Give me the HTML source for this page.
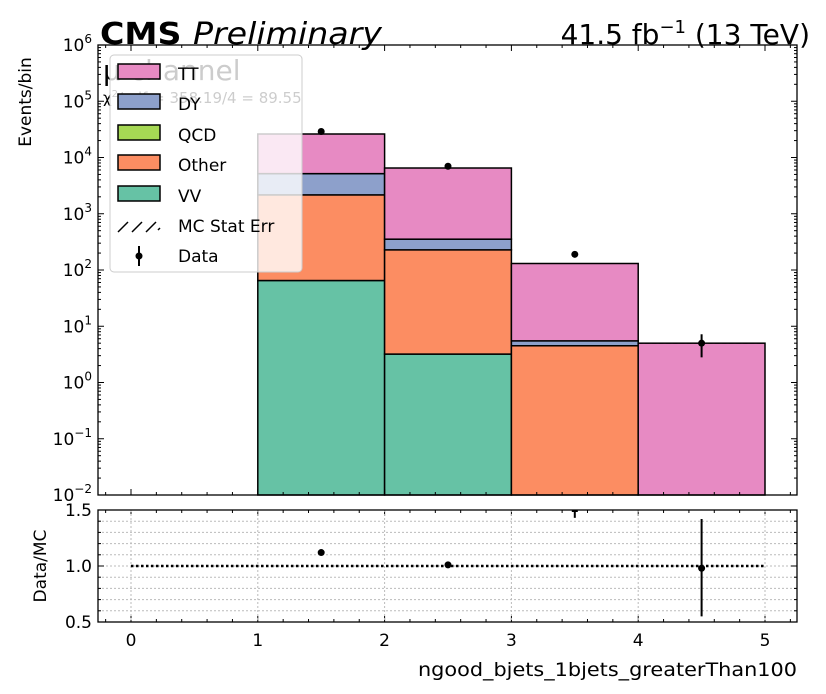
<!DOCTYPE html>
<html><head><meta charset="utf-8"><style>
body{margin:0;background:#fff;}
svg{display:block;font-family:"DejaVu Sans","Liberation Sans",sans-serif;}
</style></head><body>
<svg id="c" width="826" height="694" viewBox="0 0 826 694"></svg>
<script>
const binEdges=[0,1,2,3,4,5];
const vvVals=[0,65,3.2,0,0];
const otherVals=[0,2100,225,4.5,0];
const qcdVals=[0,0,0,0,0];
const dyVals=[0,3000,125,1.0,0];
const ttVals=[0,21000,6150,125,5.0];
const dataVals=[0,29000,7000,190,5.0];
const dataErrLo=[0,170,84,14,2.2];
const dataErrHi=[0,170,84,14,2.2];
const ratioVals=[null,1.12,1.01,1.6,0.98];
const ratioErrLo=[0,0.01,0.01,0.17,0.43];
const ratioErrHi=[0,0.01,0.01,0.17,0.44];
const yTicks=[-2,-1,0,1,2,3,4,5,6];
const xTicks=[0,1,2,3,4,5];
const rTicks=[0.5,1.0,1.5];

const S=document.getElementById('c');const NS='http://www.w3.org/2000/svg';
function el(t,a,p){const e=document.createElementNS(NS,t);for(const k in a)e.setAttribute(k,a[k]);(p||S).appendChild(e);return e;}
const L=98,R=797,T=45,B=495,RT=510,RB=622;
const X=v=>131+(v)*126.8;
const Y=v=>T+(6-Math.log10(Math.max(v,1e-2)))*56.25;
const RY=v=>RB-(v-0.5)*(RB-RT);
const comps=[[vvVals,'#66c2a5','vv'],[otherVals,'#fc8d62','other'],[qcdVals,'#a6d854','qcd'],[dyVals,'#8da0cb','dy'],[ttVals,'#e78ac3','tt']];
const cum=binEdges.slice(0,-1).map(()=>0);
const stackG=el('g',{});

comps.forEach(([vals,col,nm])=>{
  vals.forEach((v,i)=>{
    if(v<=0)return;
    const lo=cum[i],hi=cum[i]+v;cum[i]=hi;
    const y1=Y(hi),y0=Y(lo>0?lo:1e-2);
    const r=el('rect',{x:X(binEdges[i]),y:y1,width:X(binEdges[i+1])-X(binEdges[i]),height:y0-y1,fill:col,stroke:'#000','stroke-width':1.5},stackG);
    
    
  });
});
el('line',{x1:X(4),x2:X(5),y1:Y(cum[4]),y2:Y(cum[4]),stroke:'#000','stroke-dasharray':'4,3','stroke-width':1});
dataVals.forEach((v,i)=>{if(v<=0)return;const cx=X((binEdges[i]+binEdges[i+1])/2);
  el('line',{x1:cx,x2:cx,y1:Y(v+dataErrHi[i]),y2:Y(v-dataErrLo[i]),stroke:'#000','stroke-width':2});
  const c=el('circle',{cx:cx,cy:Y(v),r:3.5,fill:'#000'});
  });
const ax=el('g',{});

el('rect',{x:L,y:T,width:R-L,height:B-T,fill:'none',stroke:'#000','stroke-width':1.3},ax);
yTicks.forEach(e=>{const y=T+(6-e)*56.25;
  el('line',{x1:L,x2:L+6,y1:y,y2:y,stroke:'#000'},ax);el('line',{x1:R,x2:R-6,y1:y,y2:y,stroke:'#000'},ax);
  const t=el('text',{x:L-6,y:y+6,'text-anchor':'end','font-size':17},ax);t.innerHTML='10<tspan dy="-8" font-size="12">'+(e<0?'−'+(-e):e)+'</tspan>';
  
  if(e<6)for(let m=2;m<10;m++){const ym=y-Math.log10(m)*56.25;el('line',{x1:L,x2:L+3,y1:ym,y2:ym,stroke:'#000'},ax);el('line',{x1:R,x2:R-3,y1:ym,y2:ym,stroke:'#000'},ax);}
});
for(let v=-0.2;v<=5.21;v+=0.2){const x=X(v);const major=Math.abs(v-Math.round(v))<1e-6;const l=major?6:3;
  el('line',{x1:x,x2:x,y1:B,y2:B-l,stroke:'#000'},ax);el('line',{x1:x,x2:x,y1:T,y2:T+l,stroke:'#000'},ax);
  el('line',{x1:x,x2:x,y1:RB,y2:RB-l,stroke:'#000'},ax);el('line',{x1:x,x2:x,y1:RT,y2:RT+l,stroke:'#000'},ax);}
const rg=el('g',{});
xTicks.forEach(v=>el('line',{x1:X(v),x2:X(v),y1:RT,y2:RB,stroke:'#bbb','stroke-dasharray':'2,2'},rg));
for(let k=1;k<10;k++){const y=RY(0.5+k*0.1);el('line',{x1:L,x2:R,y1:y,y2:y,stroke:'#bbb','stroke-dasharray':'2,2'},rg);
  el('line',{x1:L,x2:L+3,y1:y,y2:y,stroke:'#000'},rg);el('line',{x1:R,x2:R-3,y1:y,y2:y,stroke:'#000'},rg);}
el('line',{x1:X(0),x2:X(5),y1:RY(1),y2:RY(1),stroke:'#000','stroke-width':2.5,'stroke-dasharray':'2.5,2.5'},rg);
ratioVals.forEach((v,i)=>{if(v==null)return;const cx=X((binEdges[i]+binEdges[i+1])/2);
  if(v>1.5){const lo=v-ratioErrLo[i];if(lo<1.5){el('line',{x1:cx,x2:cx,y1:RT,y2:RY(lo),stroke:'#000','stroke-width':2},rg);el('line',{x1:cx-3,x2:cx+3,y1:RT+1,y2:RT+1,stroke:'#000','stroke-width':2},rg);}return;}
  el('line',{x1:cx,x2:cx,y1:RY(v+ratioErrHi[i]),y2:RY(v-ratioErrLo[i]),stroke:'#000','stroke-width':2},rg);
  const c=el('circle',{cx:cx,cy:RY(v),r:3.5,fill:'#000'},rg);});
el('rect',{x:L,y:RT,width:R-L,height:RB-RT,fill:'none',stroke:'#000','stroke-width':1.3},rg);
rTicks.forEach(v=>{const y=RY(v);el('line',{x1:L,x2:L+6,y1:y,y2:y,stroke:'#000'},rg);el('line',{x1:R,x2:R-6,y1:y,y2:y,stroke:'#000'},rg);
  const t=el('text',{x:L-6,y:y+6,'text-anchor':'end','font-size':17},rg);t.textContent=v.toFixed(1);
  });
xTicks.forEach(v=>{const t=el('text',{x:X(v),y:646,'text-anchor':'middle','font-size':17});t.textContent=v;
  });
</script>
<svg width="826" height="694" style="position:absolute;left:0;top:0">
<g font-family="DejaVu Sans, Liberation Sans, sans-serif">
<text x="100" y="44" font-size="30" font-weight="bold" textLength="282" lengthAdjust="spacingAndGlyphs">CMS <tspan font-weight="normal" font-style="italic">Preliminary</tspan></text>
<text x="810" y="44" font-size="28" text-anchor="end">41.5 fb<tspan dy="-11" font-size="18">−1</tspan><tspan dy="11"> (13 TeV)</tspan></text>
<text x="103" y="80" font-size="28" fill="#000">μ channel</text>
<text x="103" y="103" font-size="15">χ<tspan dy="-6" font-size="10">2</tspan><tspan dy="6">/ndf = 358.19/4 = 89.55</tspan></text>
<g>
<rect x="110" y="55" width="192" height="217" rx="4" fill="#fff" fill-opacity="0.8" stroke="#ccc"/>
<g font-size="17">
<rect x="118" y="64" width="42" height="15" fill="#e78ac3" stroke="#000" stroke-width="1.5"/><text x="178" y="80">TT</text>
<rect x="118" y="94" width="42" height="15" fill="#8da0cb" stroke="#000" stroke-width="1.5"/><text x="178" y="110">DY</text>
<rect x="118" y="125" width="42" height="15" fill="#a6d854" stroke="#000" stroke-width="1.5"/><text x="178" y="141">QCD</text>
<rect x="118" y="155" width="42" height="15" fill="#fc8d62" stroke="#000" stroke-width="1.5"/><text x="178" y="171">Other</text>
<rect x="118" y="186" width="42" height="15" fill="#66c2a5" stroke="#000" stroke-width="1.5"/><text x="178" y="202">VV</text>
<path d="M118 232 L128 222 M132 232 L142 222 M146 232 L156 222 M158 230 L160 228" stroke="#000" stroke-width="1.5"/><text x="178" y="232">MC Stat Err</text>
<line x1="139" y1="246" x2="139" y2="266" stroke="#000" stroke-width="2"/><circle cx="139" cy="256" r="3.5"/><text x="178" y="262">Data</text>
</g></g>
<text x="31" y="102" font-size="17" transform="rotate(-90 31 102)" text-anchor="middle">Events/bin</text>
<text x="46" y="566" font-size="17" transform="rotate(-90 46 566)" text-anchor="middle">Data/MC</text>
<text x="797" y="676" font-size="19" text-anchor="end" textLength="379" lengthAdjust="spacingAndGlyphs">ngood_bjets_1bjets_greaterThan100</text>
</g></svg>
</body></html>
